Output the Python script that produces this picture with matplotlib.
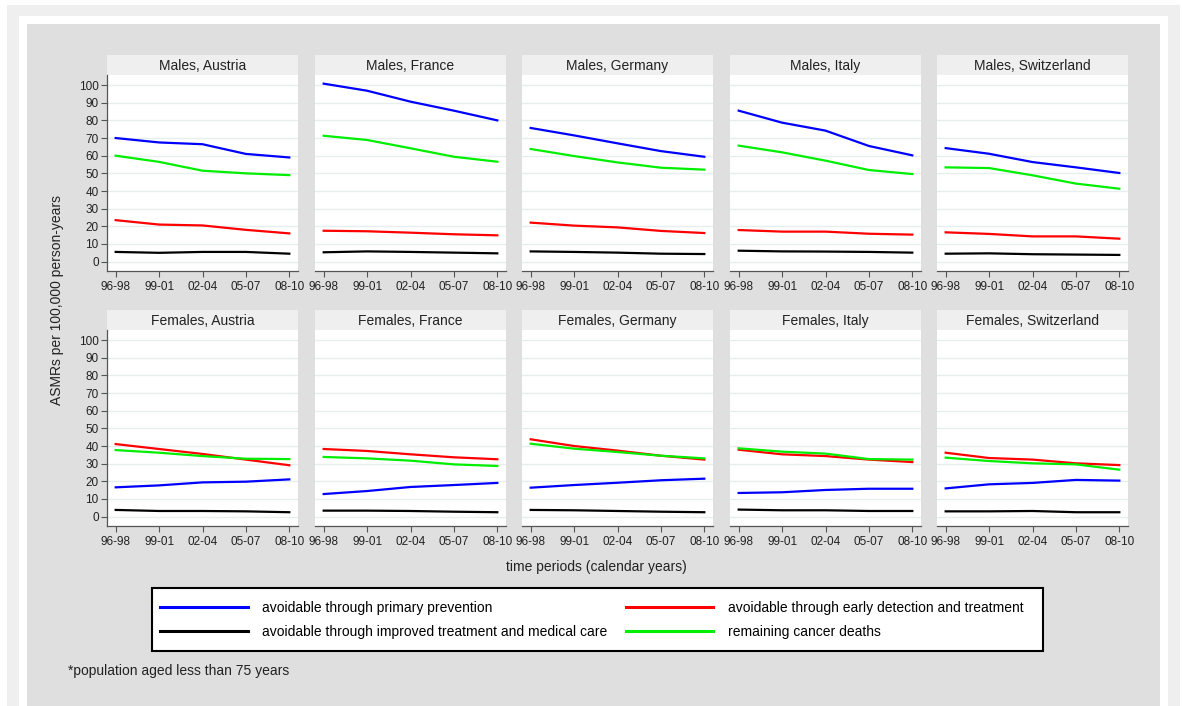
import matplotlib
matplotlib.use('Agg')
import matplotlib.pyplot as plt
from matplotlib.patches import Rectangle
from matplotlib.lines import Line2D

plt.rcParams['font.family'] = ['Liberation Sans', 'DejaVu Sans']

# размеры картинки в пикселях
W, H = 1183, 706

periods = ['96-98', '99-01', '02-04', '05-07', '08-10']
countries = ['Austria', 'France', 'Germany', 'Italy', 'Switzerland']

# мужчины: по странам (Austria, France, Germany, Italy, Switzerland)
males_primary = [
    [70, 67.5, 66.5, 61, 59],
    [100.8, 96.8, 90.6, 85.5, 80],
    [75.7, 71.5, 67, 62.6, 59.4],
    [85.5, 78.7, 74.2, 65.5, 60.2],
    [64.3, 61.1, 56.4, 53.4, 50.2],
]
males_early = [
    [23.5, 21, 20.5, 18, 16],
    [17.5, 17.2, 16.4, 15.5, 14.9],
    [22.1, 20.4, 19.4, 17.4, 16.2],
    [17.9, 17, 17, 15.8, 15.3],
    [16.6, 15.7, 14.3, 14.3, 13],
]
males_treatment = [
    [5.5, 5, 5.5, 5.5, 4.5],
    [5.3, 5.8, 5.5, 5.1, 4.7],
    [5.8, 5.5, 5.1, 4.5, 4.3],
    [6.2, 5.8, 5.7, 5.5, 5.1],
    [4.5, 4.7, 4.2, 4, 3.8],
]
males_remaining = [
    [60, 56.5, 51.5, 50, 49],
    [71.3, 68.9, 64.2, 59.4, 56.6],
    [63.8, 59.8, 56.2, 53.2, 52.1],
    [65.7, 61.9, 57.2, 51.9, 49.6],
    [53.4, 53, 48.9, 44.2, 41.3],
]

# женщины
females_primary = [
    [16.6, 17.7, 19.4, 19.8, 21.1],
    [12.8, 14.5, 16.8, 17.9, 19.1],
    [16.4, 17.9, 19.2, 20.6, 21.5],
    [13.4, 13.8, 15.1, 15.8, 15.8],
    [16, 18.3, 19.1, 20.8, 20.4],
]
females_early = [
    [41.1, 38.3, 35.5, 32.3, 29.1],
    [38.3, 37.2, 35.3, 33.6, 32.5],
    [43.8, 40, 37.4, 34.5, 32.3],
    [37.9, 35.3, 34.3, 32.3, 30.9],
    [36.2, 33.2, 32.3, 30.2, 29.2],
]
females_treatment = [
    [3.8, 3.2, 3.2, 3, 2.5],
    [3.4, 3.4, 3.2, 2.8, 2.5],
    [3.8, 3.6, 3.2, 2.8, 2.5],
    [4, 3.6, 3.6, 3.2, 3.2],
    [3, 3, 3.2, 2.5, 2.5],
]
females_remaining = [
    [37.7, 36.2, 34.3, 32.8, 32.6],
    [33.8, 33, 31.7, 29.6, 28.7],
    [41.3, 38.5, 36.6, 34.5, 33],
    [38.7, 36.8, 35.7, 32.6, 32.3],
    [33.4, 31.5, 30.2, 29.6, 26.6],
]

labels = ['avoidable through primary prevention',
          'avoidable through early detection and treatment',
          'avoidable through improved treatment and medical care',
          'remaining cancer deaths']
colors = ['#0000ff', '#ff0000', '#000000', '#00ee00']


def box(x0, y0, x1, y1):
    # пиксели (от верхнего левого угла) -> доли фигуры
    return [x0 / W, 1 - y1 / H, (x1 - x0) / W, (y1 - y0) / H]


fig = plt.figure(figsize=(W / 100, H / 100), dpi=100, facecolor='white')

# рамки фона
for (x0, y0, x1, y1), c in [((7, 5, 1180, 706), '#efefef'),
                             ((19, 16, 1168, 706), 'white'),
                             ((27, 24, 1160, 706), '#dfdfdf')]:
    b = box(x0, y0, x1, y1)
    fig.add_artist(Rectangle((b[0], b[1]), b[2], b[3], transform=fig.transFigure,
                             facecolor=c, edgecolor='none', zorder=-10))

lefts = [107, 315, 522, 730, 937]
pw = 191
rows = [
    ('Males', 55, 75, 271, [males_primary, males_early, males_treatment, males_remaining]),
    ('Females', 310, 330, 526, [females_primary, females_early, females_treatment, females_remaining]),
]

xs = list(range(len(periods)))
for sex, htop, ptop, pbot, series in rows:
    for j, country in enumerate(countries):
        x0 = lefts[j]
        # заголовок панели
        hax = fig.add_axes(box(x0, htop, x0 + pw, ptop))
        hax.set_facecolor('#efefef')
        hax.set_xticks([])
        hax.set_yticks([])
        for s in hax.spines.values():
            s.set_visible(False)
        hax.text(0.5, 0.45, f'{sex}, {country}', ha='center', va='center',
                 fontsize=10, color='#222222', transform=hax.transAxes)

        ax = fig.add_axes(box(x0, ptop, x0 + pw, pbot))
        ax.set_facecolor('white')
        ax.set_xlim(-0.2, 4.2)
        ax.set_ylim(-5.3, 105.7)
        ax.set_yticks(range(0, 101, 10))
        ax.grid(axis='y', color='#e6eeef', linewidth=1.0)
        ax.set_axisbelow(True)
        for k in [0, 1, 2, 3]:
            ax.plot(xs, series[k][j], color=colors[k], linewidth=1.6, zorder=3)
        ax.set_xticks(xs)
        ax.set_xticklabels(periods)
        ax.tick_params(axis='x', direction='out', length=4, width=0.8, color='#555555',
                       labelsize=8.5, labelcolor='#222222', pad=3)
        for s in ['top', 'right']:
            ax.spines[s].set_visible(False)
        ax.spines['bottom'].set_color('#555555')
        ax.spines['bottom'].set_linewidth(0.9)
        if j == 0:
            ax.spines['left'].set_color('#555555')
            ax.spines['left'].set_linewidth(0.9)
            ax.tick_params(axis='y', direction='out', length=4, width=0.8, color='#555555',
                           labelsize=8.5, labelcolor='#222222', pad=2)
        else:
            ax.spines['left'].set_visible(False)
            ax.tick_params(axis='y', length=0, labelleft=False)

fig.text(57 / W, 1 - 300 / H, 'ASMRs per 100,000 person-years', rotation=90,
         ha='center', va='center', fontsize=10, color='#222222')
fig.text(596 / W, 1 - 567 / H, 'time periods (calendar years)',
         ha='center', va='center', fontsize=10, color='#222222')
fig.text(68 / W, 1 - 671 / H, '*population aged less than 75 years',
         ha='left', va='center', fontsize=10, color='#222222')

# рамка легенды
b = box(152, 588, 1043, 651)
fig.add_artist(Rectangle((b[0], b[1]), b[2], b[3], transform=fig.transFigure,
                         facecolor='white', edgecolor='black', linewidth=1.5, zorder=1))

# легенда: строки blue/red, black/green
order = [0, 2, 1, 3]
handles = [Line2D([], [], color=colors[k], linewidth=2.2) for k in order]
leg = fig.legend(handles, [labels[k] for k in order], ncol=2, loc='center left',
                 bbox_to_anchor=(160 / W, 1 - 620 / H),
                 fontsize=10, handlelength=6.3, handletextpad=1.08,
                 columnspacing=1.31, borderpad=0, labelspacing=0.68,
                 borderaxespad=0, frameon=False)
leg.set_zorder(2)

plt.savefig('out.png', dpi=100, facecolor='white')
